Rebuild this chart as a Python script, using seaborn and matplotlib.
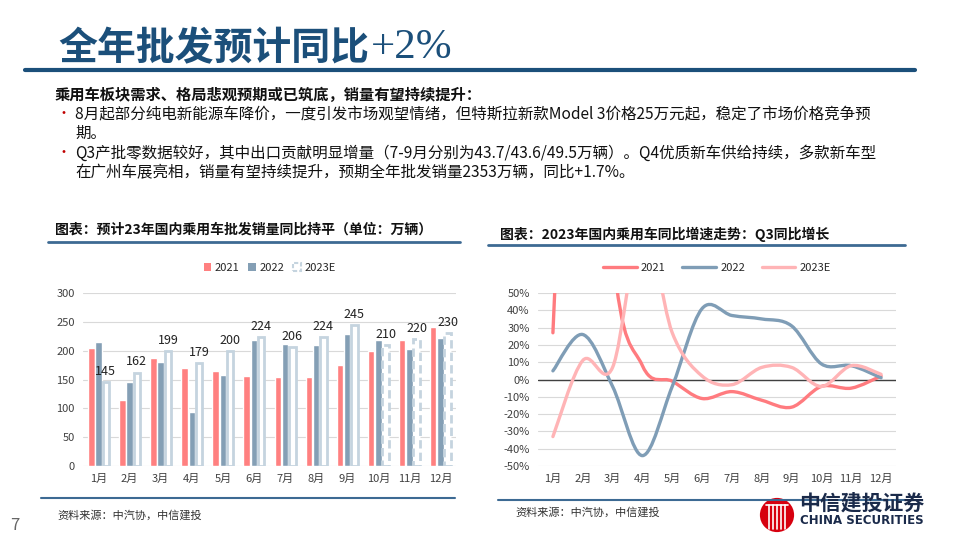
import numpy as np
import pandas as pd
import matplotlib
matplotlib.use('Agg')
import matplotlib.pyplot as plt
import seaborn as sns
from matplotlib.path import Path
from matplotlib.patches import PathPatch, Patch, Circle
from matplotlib.lines import Line2D

# ── Data ──────────────────────────────────────────────────────────────────────
months = [f'{i}月' for i in range(1, 13)]
years = ['2021', '2022', '2023E']

sales_2021 = [204, 115, 187, 170, 164, 156, 154, 154, 175, 200, 218, 241]
sales_2022 = [215, 146, 180, 94, 158, 218, 212, 209, 229, 218, 203, 222]
sales_2023e = [145, 162, 199, 179, 200, 224, 206, 224, 245, 210, 220, 230]

yoy_2021 = [27, 370, 75, 8, -1, -11, -7, -12, -16, -4, -5, 2]
yoy_2022 = [5, 26, -4, -44, -4, 41, 37, 35, 31, 9, 8, 1]
yoy_2023e = [-33, 11, 7, 90, 27, 2, -3, 7, 7, -4, 8, 3]

title_cn = '全年批发预计同比'
title_num = '+2%'
heading = '乘用车板块需求、格局悲观预期或已筑底，销量有望持续提升：'
body_lines = [
    ('•', '8月起部分纯电新能源车降价，一度引发市场观望情绪，但特斯拉新款Model 3价格25万元起，稳定了市场价格竞争预'),
    ('', '期。'),
    ('•', 'Q3产批零数据较好，其中出口贡献明显增量（7-9月分别为43.7/43.6/49.5万辆）。Q4优质新车供给持续，多款新车型'),
    ('', '在广州车展亮相，销量有望持续提升，预期全年批发销量2353万辆，同比+1.7%。'),
]
sub_left = '图表：预计23年国内乘用车批发销量同比持平（单位：万辆）'
sub_right = '图表：2023年国内乘用车同比增速走势：Q3同比增长'
source = '资料来源：中汽协，中信建投'

# ── Style ─────────────────────────────────────────────────────────────────────
sns.set_style('white')
plt.rcParams['font.family'] = ['Noto Sans CJK SC', 'DejaVu Sans']
plt.rcParams['axes.unicode_minus'] = False

NAVY = '#1b4f7a'
BAR_COLORS = {'2021': '#ff8080', '2022': '#849fb5', '2023E': '#ffffff'}
OUTLINE = '#c5d4df'
LINE_COLORS = {'2021': '#ff7b7f', '2022': '#7f9db6', '2023E': '#ffb4b6'}
TICK = '#404040'

W, H = 960, 540
fig = plt.figure(figsize=(9.6, 5.4), dpi=100)


def px(x, y):
    return x / W, 1 - y / H


def hline(x0, x1, y, color, lw):
    fig.add_artist(Line2D([x0 / W, x1 / W], [1 - y / H, 1 - y / H],
                          color=color, lw=lw, transform=fig.transFigure))


def smooth_path(xs, ys):
    pts = np.column_stack([xs, ys]).astype(float)
    n = len(pts)
    verts, codes = [pts[0]], [Path.MOVETO]
    for i in range(n - 1):
        p0, p1 = pts[max(i - 1, 0)], pts[i]
        p2, p3 = pts[i + 1], pts[min(i + 2, n - 1)]
        verts += [p1 + (p2 - p0) / 6, p2 - (p3 - p1) / 6, p2]
        codes += [Path.CURVE4] * 3
    return Path(verts, codes)


# ── Header text ───────────────────────────────────────────────────────────────
t = fig.text(*px(58, 49), title_cn, fontsize=28, fontweight='black',
             color=NAVY, va='center', ha='left')
fig.canvas.draw()
bb = t.get_window_extent()
fig.text(bb.x1 / W + 0.002, 1 - 48 / H, title_num, fontsize=31,
         family='Liberation Serif', color=NAVY, va='center', ha='left')
hline(25, 915, 70, NAVY, 3)

fig.text(*px(55, 95), heading, fontsize=11, fontweight='bold',
         color='#111111', va='center')
for i, (bullet, line) in enumerate(body_lines):
    y = 114 + i * 19.5
    if bullet:
        fig.text(*px(57, y), bullet, fontsize=10, color='#c00000', va='center')
    fig.text(*px(75, y), line, fontsize=11.2, color='#111111', va='center')

fig.text(*px(55, 230), sub_left, fontsize=10, fontweight='bold',
         color='#111111', va='center')
hline(48, 460, 242, '#3d6a93', 2)
fig.text(*px(500, 234), sub_right, fontsize=10, fontweight='bold',
         color='#111111', va='center')
hline(488, 905, 245, '#3d6a93', 2)

# ── Bar chart ─────────────────────────────────────────────────────────────────
ax1 = fig.add_axes([83 / W, 1 - 466 / H, (456 - 83) / W, (466 - 293) / H])
df = pd.DataFrame({
    'month': months * 3,
    'year': np.repeat(years, 12),
    'sales': sales_2021 + sales_2022 + sales_2023e,
})
sns.barplot(data=df, x='month', y='sales', hue='year', palette=BAR_COLORS,
            saturation=1, width=0.7, gap=0.1, legend=False, ax=ax1, zorder=3)
for bar_i, bar in enumerate(ax1.containers[2]):
    bar.set_edgecolor(OUTLINE)
    bar.set_linewidth(2)
    if bar_i >= 9:
        bar.set_linestyle((0, (3, 1.5)))
ax1.bar_label(ax1.containers[2], labels=[str(v) for v in sales_2023e],
              padding=3, fontsize=9, color='#222222')
ax1.set_ylim(0, 300)
ax1.set_xlim(-0.5, 11.5)
ax1.set_yticks(range(0, 301, 50))
ax1.yaxis.grid(True, color='#d9d9d9', lw=0.8, zorder=0)
ax1.set_axisbelow(True)
ax1.set_xlabel('')
ax1.set_ylabel('')
ax1.tick_params(axis='both', length=0, labelsize=8, colors=TICK, pad=6)
for s in ax1.spines.values():
    s.set_visible(False)
bar_handles = [
    Patch(facecolor=BAR_COLORS['2021'], edgecolor='none', label='2021'),
    Patch(facecolor=BAR_COLORS['2022'], edgecolor='none', label='2022'),
    Patch(facecolor='white', edgecolor=OUTLINE, lw=1.5, ls=(0, (2, 1)), label='2023E'),
]
ax1.legend(handles=bar_handles, loc='center', bbox_to_anchor=(0.5, 1.145),
           ncol=3, frameon=False, fontsize=8, handlelength=0.7,
           handleheight=0.7, handletextpad=0.3, columnspacing=0.8)

# ── Line chart ────────────────────────────────────────────────────────────────
ax2 = fig.add_axes([538 / W, 1 - 466 / H, (896 - 538) / W, (466 - 293) / H])
x = np.arange(len(months))
for name, vals in zip(years, [yoy_2021, yoy_2022, yoy_2023e]):
    ax2.add_patch(PathPatch(smooth_path(x, vals), facecolor='none',
                            edgecolor=LINE_COLORS[name], lw=2.4,
                            capstyle='round', joinstyle='round', zorder=3))
ax2.axhline(0, color='#404040', lw=1, zorder=2)
ax2.set_xlim(-0.5, 11.5)
ax2.set_ylim(-50, 50)
ax2.set_xticks(x)
ax2.set_xticklabels(months)
ax2.set_yticks(range(-50, 51, 10))
ax2.set_yticklabels([f'{v}%' for v in range(-50, 51, 10)])
ax2.yaxis.grid(True, color='#d9d9d9', lw=0.8, zorder=0)
ax2.set_axisbelow(True)
ax2.tick_params(axis='both', length=0, labelsize=8, colors=TICK, pad=6)
for s in ax2.spines.values():
    s.set_visible(False)
line_handles = [Line2D([], [], color=LINE_COLORS[n], lw=2.4, label=n) for n in years]
ax2.legend(handles=line_handles, loc='center', bbox_to_anchor=(0.5, 1.145),
           ncol=3, frameon=False, fontsize=8, handlelength=3,
           handletextpad=0.4, columnspacing=1.5)

# ── Footer ────────────────────────────────────────────────────────────────────
hline(41, 455, 498, '#3d6a93', 1.5)
hline(498, 913, 500, '#3d6a93', 1.5)
fig.text(*px(57, 515), source, fontsize=8, color='#333333', va='center')
fig.text(*px(515, 512), source, fontsize=8, color='#333333', va='center')
fig.text(*px(10, 525), '7', fontsize=12, color='#666666', va='center')

logo = fig.add_axes([759 / W, 1 - 533 / H, 36 / W, 36 / H])
logo.set_xlim(-1, 1)
logo.set_ylim(-1, 1)
logo.set_aspect('equal')
logo.axis('off')
circ = Circle((0, 0), 0.95, facecolor='#d7000f', edgecolor='none')
logo.add_patch(circ)
for xv in np.linspace(-0.45, 0.45, 5):
    ln, = logo.plot([xv, xv], [-0.75, 0.55], color='white', lw=1.2)
    ln.set_clip_path(circ)
logo.plot([-0.6, 0.6], [0.55, 0.55], color='white', lw=1.2)
fig.text(*px(799, 503), '中信建投证券', fontsize=15, fontweight='bold',
         color='#1a2a4a', va='center')
fig.text(*px(800, 521), 'CHINA SECURITIES', fontsize=8.5, fontweight='bold',
         family='DejaVu Sans', color='#1a2a4a', va='center')

fig.savefig('out.png', dpi=100)
